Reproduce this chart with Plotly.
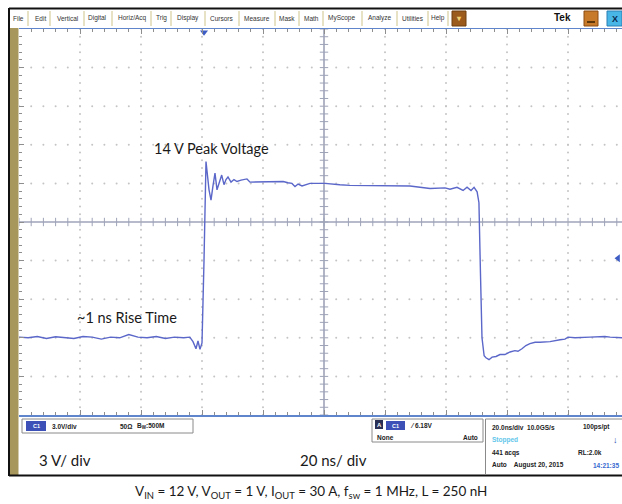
import numpy as np
import plotly.graph_objects as go

W, H = 622, 504

# ---------------- data (time in ns relative to trigger, voltage in V) -------------
t_ns = [-60, -57, -54, -51, -48, -45, -42, -39, -36, -33, -30, -27, -24, -21, -18, -15,
        -12, -9, -6, -4, -2.95, -1.97, -1.31, -0.66, 0.0, 0.66, 1.31, 2.30, 2.95, 3.6,
        4.26, 4.92, 5.74, 6.46, 7.21, 7.87, 8.52, 9.51, 10.49, 11.48, 12.79, 14.75,
        15.74, 19.0, 22.3, 26.6, 28.2, 29.5, 30.5, 31.5, 32.8, 35.4, 40.3, 43.6, 45.2,
        48.5, 55.1, 61.6, 68.2, 74.75, 78.0, 79.7, 81.3, 83.6, 85.6, 86.9, 88.2, 89.2,
        90.2, 90.8, 91.3, 91.8, 92.5, 93.1, 94.1, 95.1, 96.4, 97.7, 99.3, 101.0, 102.6,
        103.6, 104.9, 106.2, 107.5, 109.2, 110.8, 114.1, 117.4, 119.0, 120.0, 122.3,
        127.2, 132.1, 133.8, 137.7]
v_ch1 = [0.05, 0.0, 0.1, -0.05, 0.08, 0.0, -0.05, 0.1, 0.05, -0.1, 0.05, 0.0, 0.25, 0.05,
         0.0, 0.1, -0.05, 0.05, 0.0, 0.05, -0.3, -0.85, -0.25, -0.9, -0.4, 6.0, 13.7, 11.5,
         10.7, 11.8, 12.8, 11.5, 12.2, 12.65, 11.9, 12.3, 12.5, 12.1, 12.3, 12.15, 12.25,
         12.35, 12.1, 12.12, 12.12, 12.15, 12.05, 12.0, 11.75, 11.95, 11.8, 12.0, 12.0,
         11.9, 11.9, 11.85, 11.85, 11.8, 11.8, 11.6, 11.6, 11.65, 11.55, 11.7, 11.45, 11.7,
         11.45, 11.7, 11.35, 10.5, 5.0, 0.0, -1.4, -1.55, -1.7, -1.5, -1.45, -1.3, -1.3,
         -1.1, -1.0, -1.05, -0.85, -0.6, -0.45, -0.35, -0.35, -0.3, -0.15, -0.1, 0.05,
         0.0, 0.05, 0.1, 0.05, 0.0]

volts_per_div = 3.0      # 3 V/div
ns_per_div = 20.0        # 20 ns/div
trigger_level = 6.18     # V
t_left = -60.0
v_center = 9.0

menu_labels = ["File", "Edit", "Vertical", "Digital", "Horiz/Acq", "Trig", "Display",
               "Cursors", "Measure", "Mask", "Math", "MyScope", "Analyze", "Utilities", "Help"]

# ---------------- geometry (pixels in the 622x504 page) ----------------------------
SX0, SY0, SY1 = 19, 29, 415         # screen left, top, bottom
DIVX = 61.0                          # px per horizontal division
t_right = t_left + (W - SX0) / DIVX * ns_per_div
v_top = v_center + 5 * volts_per_div
v_bot = v_center - 5 * volts_per_div


def PX(x):
    return x / W


def PY(y):
    return 1 - y / H


fig = go.Figure()

# dotted graticule
minor_t = np.arange(t_left, t_left + 10 * ns_per_div + 0.01, ns_per_div / 5)
minor_v = np.arange(v_bot, v_top + 0.01, volts_per_div / 5)
dot_x, dot_y = [], []
for k in range(1, 10):
    if k == 5:
        continue
    tx = t_left + k * ns_per_div
    dot_x += [tx] * len(minor_v)
    dot_y += list(minor_v)
    vy = v_bot + k * volts_per_div
    dot_x += list(minor_t)
    dot_y += [vy] * len(minor_t)
fig.add_trace(go.Scatter(x=dot_x, y=dot_y, mode="markers", hoverinfo="skip",
                         marker=dict(size=2, color="#c4c4c4"), showlegend=False))

# center cross with ticks
t_c = t_left + 5 * ns_per_div
grat_col = "#9ea3b8"
fig.add_shape(type="line", x0=t_left, x1=t_left + 10 * ns_per_div, y0=v_center, y1=v_center,
              line=dict(color=grat_col, width=1.6), layer="below")
fig.add_shape(type="line", x0=t_c, x1=t_c, y0=v_bot, y1=v_top,
              line=dict(color=grat_col, width=1.6), layer="below")
fig.add_trace(go.Scatter(x=minor_t, y=[v_center] * len(minor_t), mode="markers",
                         hoverinfo="skip", showlegend=False,
                         marker=dict(symbol="line-ns", size=6,
                                     line=dict(color=grat_col, width=1))))
fig.add_trace(go.Scatter(x=[t_c] * len(minor_v), y=minor_v, mode="markers",
                         hoverinfo="skip", showlegend=False,
                         marker=dict(symbol="line-ew", size=6,
                                     line=dict(color=grat_col, width=1))))

# waveform
fig.add_trace(go.Scatter(x=t_ns, y=v_ch1, mode="lines", showlegend=False,
                         line=dict(color="#5b67c9", width=1.4)))

# ground marker "1"
fig.add_trace(go.Scatter(x=[t_left - 2.5 / DIVX * ns_per_div], y=[0], mode="markers+text",
                         text=["1"], textposition="middle center", cliponaxis=False,
                         textfont=dict(size=6, color="white", family="Arial"),
                         marker=dict(size=9, color="#3d5cc4"), showlegend=False))
# trigger position marker
fig.add_trace(go.Scatter(x=[0.66], y=[v_top - 0.25], mode="markers", cliponaxis=False,
                         marker=dict(symbol="triangle-down", size=7, color="#3d5cc4"),
                         showlegend=False))
# trigger level marker
fig.add_trace(go.Scatter(x=[t_right - 1.3], y=[trigger_level], mode="markers",
                         cliponaxis=False,
                         marker=dict(symbol="triangle-left", size=7, color="#3d5cc4"),
                         showlegend=False))

tickc = "#8e8e8e"
fig.update_xaxes(domain=[PX(SX0), 1.0], range=[t_left, t_right], tickmode="linear",
                 tick0=t_left, dtick=ns_per_div, ticks="inside", ticklen=5,
                 tickcolor=tickc, showticklabels=False, showgrid=False, zeroline=False,
                 showline=True, linecolor="#5f86cc", linewidth=1.5, mirror="ticks",
                 minor=dict(dtick=ns_per_div / 5, tick0=t_left, ticks="inside",
                            ticklen=3, tickcolor=tickc, showgrid=False))
fig.update_yaxes(domain=[PY(SY1), PY(SY0)], range=[v_bot, v_top], tickmode="linear",
                 tick0=v_bot, dtick=volts_per_div, ticks="inside", ticklen=5,
                 tickcolor=tickc, showticklabels=False, showgrid=False, zeroline=False,
                 showline=False,
                 minor=dict(dtick=volts_per_div / 5, tick0=v_bot, ticks="inside",
                            ticklen=3, tickcolor=tickc, showgrid=False))

shapes = []


def rect(x0, y0, x1, y1, fill=None, line=None, lw=1, layer="above"):
    shapes.append(dict(type="rect", xref="paper", yref="paper", x0=PX(x0), x1=PX(x1),
                       y0=PY(y1), y1=PY(y0), fillcolor=fill or "rgba(0,0,0,0)",
                       line=dict(color=line or "rgba(0,0,0,0)", width=lw if line else 0),
                       layer=layer))


def hline(x0, x1, y, color, lw=1):
    shapes.append(dict(type="line", xref="paper", yref="paper", x0=PX(x0), x1=PX(x1),
                       y0=PY(y), y1=PY(y), line=dict(color=color, width=lw)))


def vline(x, y0, y1, color, lw=1):
    shapes.append(dict(type="line", xref="paper", yref="paper", x0=PX(x), x1=PX(x),
                       y0=PY(y0), y1=PY(y1), line=dict(color=color, width=lw)))


# window frame, menu bar, tan side strip
rect(10, 9, 640, 28, fill="#f2eaa9")
hline(10, 640, 28, "#d8cf90", 1)
rect(10, 28, 18.5, 475, fill="#a8975c")
hline(9, 640, 8.5, "#111111", 2)
vline(9, 8, 476, "#111111", 2)
hline(9, 640, 475.5, "#111111", 2)

# menu separators
seps = [28, 50, 84, 112, 151, 171, 205, 239, 275, 299, 323, 362, 397, 428, 448]
for s in seps:
    vline(s, 11, 26, "#cfc58a", 1)
rect(452, 11, 466, 26, fill="#9a5b1c", line="#6e3e10")
rect(584, 11, 598, 26, fill="#c77a2a", line="#8a4d14")
hline(587, 595, 22, "#3a2000", 1.5)
rect(607, 11, 622, 26, fill="#48b6e6", line="#2a7fb4")

# bottom readout boxes
rect(22, 419, 193, 433, fill="white", line="#8a8a8a", lw=1)
rect(26, 421, 46, 431, fill="#3c50b8")
rect(372, 419, 483, 442, fill="white", line="#8a8a8a", lw=1)
rect(375, 420, 383, 429, fill="#2a2f55")
rect(386, 421, 405, 430, fill="#3c50b8")
vline(485.5, 419, 475, "#8a8a8a", 1)
hline(485.5, 640, 419, "#8a8a8a", 1)

fig.update_layout(shapes=shapes)

ann = []


def txt(x, y, s, size=6.5, color="#222222", anchor="left", family="Arial", bold=True):
    ann.append(dict(xref="paper", yref="paper", x=PX(x), y=PY(y), text=f"<b>{s}</b>" if bold else s,
                    showarrow=False, xanchor=anchor, yanchor="middle",
                    font=dict(size=size, color=color, family=family)))


menu_centers = [18, 40, 68, 97, 132, 161, 188, 222, 257, 287, 311, 342, 380, 413, 438]
for lab, cx in zip(menu_labels, menu_centers):
    txt(cx, 18.5, lab, size=6.5, color="#333333", anchor="center", bold=False)
txt(459, 19, "▾", size=8, color="#f2d070", anchor="center")
txt(562, 18, "Tek", size=10, color="#111111", anchor="center")
txt(614.5, 19, "X", size=9, color="#0a2a50", anchor="center")

# channel box
txt(36, 426, "C1", size=5.5, color="white", anchor="center")
txt(50, 426, "3.0V/div")
txt(118, 426, "50Ω")
txt(135, 426, "B<sub>W</sub>:500M")
# trigger box
txt(379, 424.5, "A", size=6, color="white", anchor="center")
txt(395.5, 425.5, "C1", size=5.5, color="white", anchor="center")
txt(408, 425.5, "⁄ 6.18V", size=6.5)
txt(375, 437, "None")
txt(480, 437, "Auto", anchor="right")
# acquisition box
txt(490, 427, "20.0ns/div  10.0GS/s")
txt(612, 427, "100ps/pt", anchor="right")
txt(490, 440, "Stopped", color="#62c6ea")
txt(615, 440, "↓", size=9, color="#2548b0", anchor="center")
txt(490, 452.5, "441 acqs")
txt(604, 452.5, "RL:2.0k", anchor="right")
txt(490, 465, "Auto    August 20, 2015")
txt(621, 465, "14:21:35", color="#3a6ad0", anchor="right")

# annotation texts
narrow = "Liberation Sans Narrow, Lato, sans-serif"
txt(152, 148, "14 V Peak Voltage", size=14.5, color="#1a1a1a", family=narrow, bold=False)
txt(75, 317, "~1 ns Rise Time", size=14.5, color="#1a1a1a", family=narrow, bold=False)
txt(37, 460, "3 V/ div", size=15, color="#1a1a1a", family=narrow, bold=False)
txt(298, 460, "20 ns/ div", size=15, color="#1a1a1a", family=narrow, bold=False)
txt(311, 492, "V<sub>IN</sub> = 12 V, V<sub>OUT</sub> = 1 V, I<sub>OUT</sub> = 30 A, "
              "f<sub>sw</sub> = 1 MHz, L = 250 nH", size=13.5, color="#1a1a1a",
    family=narrow, bold=False, anchor="center")

fig.update_layout(annotations=ann, width=W, height=H,
                  margin=dict(l=0, r=0, t=0, b=0),
                  paper_bgcolor="white", plot_bgcolor="white", showlegend=False)

fig.write_html("out.html", config={"displayModeBar": False, "staticPlot": True},
               post_script="document.body.style.margin='0px';"
                           "document.body.style.padding='0px';"
                           "document.documentElement.style.overflow='hidden';")
